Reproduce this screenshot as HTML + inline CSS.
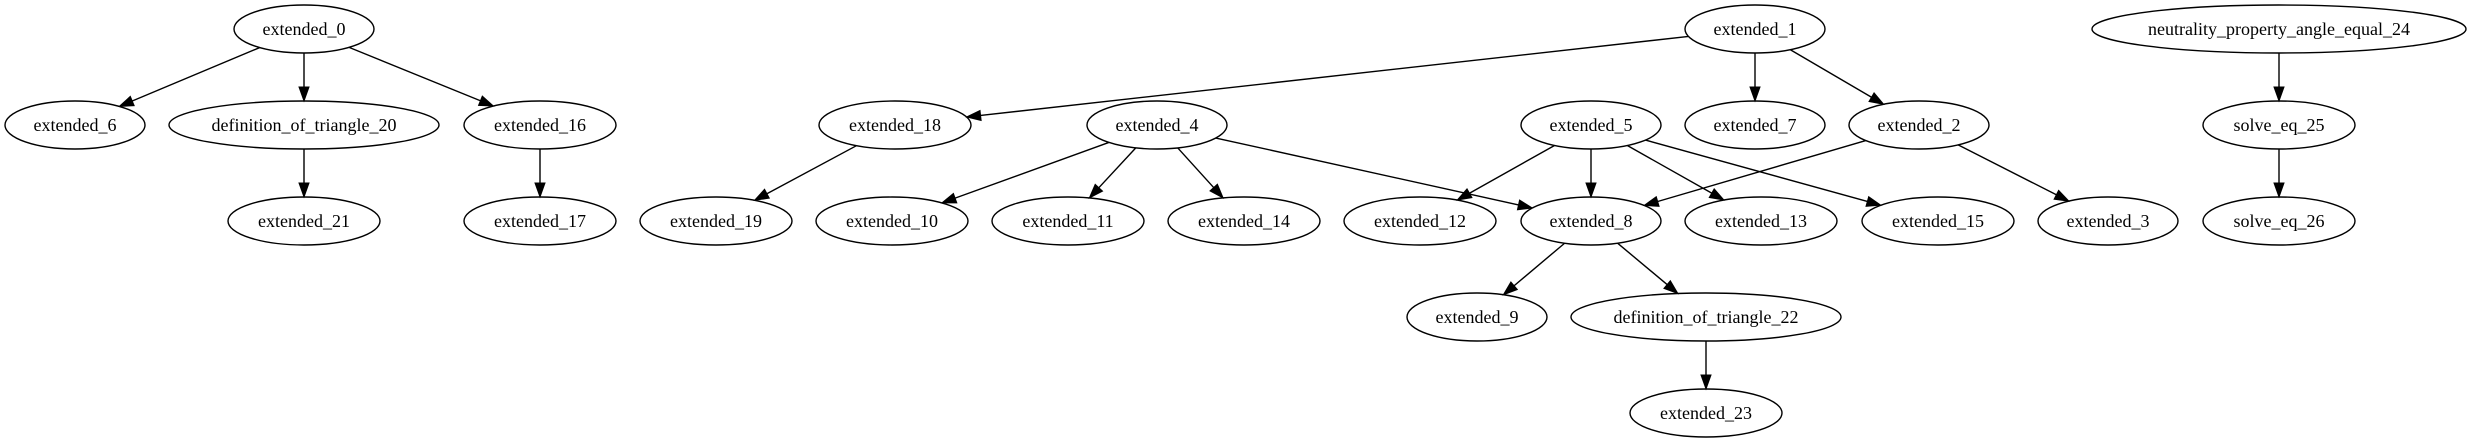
<!DOCTYPE html>
<html><head><meta charset="utf-8"><style>
html,body{margin:0;padding:0;background:#fff;}
svg{display:block;}
text{font-family:"Liberation Serif",serif;font-size:18px;}
</style></head><body>
<svg id="g" width="2472" height="443" viewBox="0 0 2472 443" xmlns="http://www.w3.org/2000/svg"></svg>
<script>
var N={
e0:[304,29,70,"extended_0"],e6:[75,125,70,"extended_6"],d20:[304,125,135,"definition_of_triangle_20"],
e16:[540,125,76,"extended_16"],e21:[304,221,76,"extended_21"],e17:[540,221,76,"extended_17"],
e19:[716,221,76,"extended_19"],e18:[895,125,76,"extended_18"],e4:[1157,125,70,"extended_4"],
e5:[1591,125,70,"extended_5"],e10:[892,221,76,"extended_10"],e11:[1068,221,76,"extended_11"],
e14:[1244,221,76,"extended_14"],e12:[1420,221,76,"extended_12"],e8:[1591,221,70,"extended_8"],
e9:[1477,317,70,"extended_9"],d22:[1706,317,135,"definition_of_triangle_22"],e23:[1706,413,76,"extended_23"],
e1:[1755,29,70,"extended_1"],e7:[1755,125,70,"extended_7"],e2:[1919,125,70,"extended_2"],
e13:[1761,221,76,"extended_13"],e15:[1938,221,76,"extended_15"],e3:[2108,221,70,"extended_3"],
n24:[2279,29,187,"neutrality_property_angle_equal_24"],s25:[2279,125,76,"solve_eq_25"],s26:[2279,221,76,"solve_eq_26"]};
var E=[["e0","e6"],["e0","d20"],["e0","e16"],["d20","e21"],["e16","e17"],["e1","e18"],["e1","e7"],["e1","e2"],
["e18","e19"],["e4","e10"],["e4","e11"],["e4","e14"],["e4","e8"],["e5","e12"],["e5","e8"],["e5","e13"],["e5","e15"],
["e2","e8"],["e2","e3"],["e8","e9"],["e8","d22"],["d22","e23"],["n24","s25"],["s25","s26"]];
var RY=24,s="";
function bp(n,dx,dy){var a=n[2],b=RY;var t=1/Math.sqrt(dx*dx/(a*a)+dy*dy/(b*b));return [n[0]+dx*t,n[1]+dy*t];}
E.forEach(function(e){var A=N[e[0]],B=N[e[1]];var dx=B[0]-A[0],dy=B[1]-A[1];
var p=bp(A,dx,dy),q=bp(B,-dx,-dy);var L=Math.hypot(q[0]-p[0],q[1]-p[1]);var ux=(q[0]-p[0])/L,uy=(q[1]-p[1])/L;
var al=14,aw=5;var bx=q[0]-ux*al,by=q[1]-uy*al;
s+='<line x1="'+p[0]+'" y1="'+p[1]+'" x2="'+bx+'" y2="'+by+'" stroke="#000" stroke-width="1.4"/>';
s+='<polygon points="'+q[0]+','+q[1]+' '+(bx-uy*aw)+','+(by+ux*aw)+' '+(bx+uy*aw)+','+(by-ux*aw)+'" fill="#000" stroke="#000"/>';});
for(var k in N){var n=N[k];s+='<ellipse cx="'+n[0]+'" cy="'+n[1]+'" rx="'+n[2]+'" ry="'+RY+'" fill="none" stroke="#000" stroke-width="1.4"/>';
s+='<text x="'+n[0]+'" y="'+(n[1]+6)+'" text-anchor="middle">'+n[3]+'</text>';}
document.getElementById("g").innerHTML=s;
</script>
</body></html>
